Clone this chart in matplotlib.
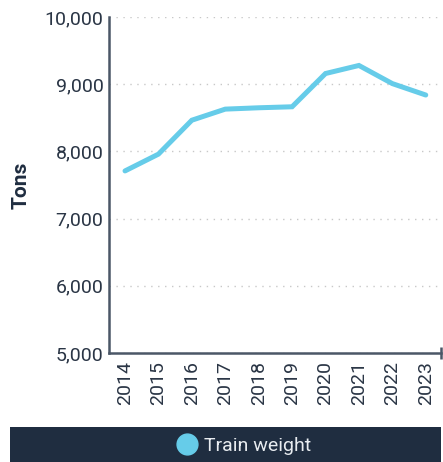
import matplotlib
matplotlib.use("Agg")
import matplotlib.pyplot as plt
from matplotlib.lines import Line2D
from matplotlib.patches import Rectangle

# data
years = ["2014", "2015", "2016", "2017", "2018", "2019", "2020", "2021", "2022", "2023"]
train_weight = [7710, 7960, 8465, 8630, 8650, 8665, 9160, 9280, 9010, 8840]
y_ticks = [5000, 6000, 7000, 8000, 9000, 10000]

navy = "#1f2d40"
line_blue = "#66cce9"
axis_grey = "#4b5767"

plt.rcParams["font.family"] = ["Roboto", "DejaVu Sans"]

fig = plt.figure(figsize=(4.43, 4.62), dpi=100)
ax = fig.add_axes([0.246, 0.236, 0.749, 0.727])

x = list(range(len(years)))
ax.plot(x, train_weight, color=line_blue, linewidth=3.6, solid_capstyle="round",
        solid_joinstyle="miter")

ax.set_xlim(-0.48, len(years) - 0.55)
ax.set_ylim(5000, 10000)
ax.set_xticks(x)
ax.set_xticklabels(years, rotation=90)
ax.set_yticks(y_ticks)
ax.set_yticklabels([f"{v:,}" for v in y_ticks])
ax.tick_params(axis="both", length=0, labelsize=14, colors="#2a3545", pad=6)
ax.tick_params(axis="y", pad=4)

# small tick marks at the ends of the axes only
ax.set_yticks([10000], minor=True)
ax.set_xticks([ax.get_xlim()[1]], minor=True)
ax.tick_params(axis="both", which="minor", direction="inout", length=8, width=1.8,
               color=axis_grey)

ax.grid(axis="y", linestyle=(0, (1, 4)), color="#c8c8c8", linewidth=1.0)
ax.set_axisbelow(True)

for side in ["top", "right"]:
    ax.spines[side].set_visible(False)
for side in ["left", "bottom"]:
    ax.spines[side].set_color(axis_grey)
    ax.spines[side].set_linewidth(1.8)

ax.set_ylabel("Tons", fontsize=15, fontweight="bold", color=navy, labelpad=10)

# legend bar at the bottom
fig.patches.append(Rectangle((0.0226, 0.0), 0.9724, 0.0758, transform=fig.transFigure,
                             facecolor=navy, edgecolor="none", zorder=0))
handle = Line2D([], [], marker="o", linestyle="none", markersize=15,
                markerfacecolor=line_blue, markeredgecolor=line_blue)
fig.legend([handle], ["Train weight"], loc="center", bbox_to_anchor=(0.549, 0.035),
           frameon=False, fontsize=14, labelcolor="#e8ecf0", handletextpad=0.3,
           handlelength=1.2)

fig.savefig("out.png", dpi=100)
